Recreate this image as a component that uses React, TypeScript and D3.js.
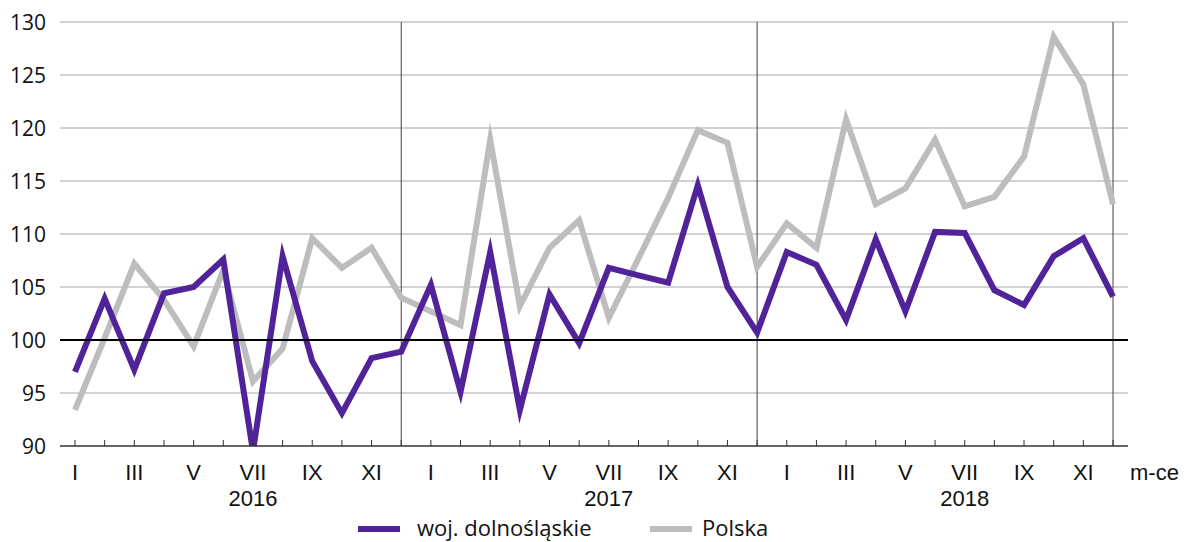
import React, { useEffect, useRef } from 'react';
import * as d3 from 'd3';

const years = ['2016', '2017', '2018'];
const monthLabels = ['I', '', 'III', '', 'V', '', 'VII', '', 'IX', '', 'XI', ''];

// woj. dolnośląskie
const dolnoslaskie = [
  97.0, 103.9, 97.2, 104.4, 105.0, 107.6, 89.5, 107.9, 98.0, 93.1, 98.3, 98.9,
  105.2, 95.1, 108.3, 93.4, 104.3, 99.7, 106.8, 106.1, 105.4, 114.6, 105.0, 100.7,
  108.3, 107.1, 101.9, 109.5, 102.7, 110.2, 110.1, 104.7, 103.3, 107.9, 109.6, 104.1,
];

// Polska
const polska = [
  93.4, 100.2, 107.2, 103.8, 99.4, 106.6, 96.1, 99.2, 109.6, 106.8, 108.7, 104.0,
  102.7, 101.4, 118.9, 103.2, 108.7, 111.3, 102.1, 107.7, 113.4, 119.8, 118.6, 106.9,
  111.0, 108.7, 120.8, 112.8, 114.3, 118.9, 112.6, 113.5, 117.3, 128.6, 124.1, 112.8,
];

const yTicks = [90, 95, 100, 105, 110, 115, 120, 125, 130];

const W = 1192;
const H = 542;

const App = () => {
  const svgRef = useRef<SVGSVGElement>(null);

  useEffect(() => {
    const svg = d3.select(svgRef.current);
    svg.selectAll('*').remove();

    const left = 60;
    const right = 1128;
    const top = 22;
    const bottom = 446;
    const n = dolnoslaskie.length;

    const x = d3.scaleLinear().domain([0, n - 1]).range([75, 1113]);
    const y = d3.scaleLinear().domain([90, 130]).range([bottom, top]);

    svg.append('defs')
      .append('clipPath')
      .attr('id', 'plot')
      .append('rect')
      .attr('x', left)
      .attr('y', top - 10)
      .attr('width', right - left)
      .attr('height', bottom - top + 10);

    // horizontal grid
    svg.append('g')
      .selectAll('line')
      .data(yTicks.filter(d => d !== 90 && d !== 100))
      .join('line')
      .attr('x1', left)
      .attr('x2', right)
      .attr('y1', d => y(d))
      .attr('y2', d => y(d))
      .attr('stroke', '#a6a6a6')
      .attr('stroke-width', 1);

    // december separators
    svg.append('g')
      .selectAll('line')
      .data(d3.range(11, n, 12))
      .join('line')
      .attr('x1', d => x(d))
      .attr('x2', d => x(d))
      .attr('y1', top)
      .attr('y2', bottom)
      .attr('stroke', '#404040')
      .attr('stroke-width', 1);

    // y labels
    svg.append('g')
      .selectAll('text')
      .data(yTicks)
      .join('text')
      .attr('x', 46)
      .attr('y', d => y(d) + 8)
      .attr('text-anchor', 'end')
      .attr('font-family', '"Open Sans", "Noto Sans", sans-serif')
      .attr('font-size', 21)
      .attr('fill', '#111')
      .text(d => d);

    // lines
    const line = d3.line<number>()
      .x((_, i) => x(i))
      .y(d => y(d));

    const series = [
      { data: polska, color: '#bdbdbd' },
      { data: dolnoslaskie, color: '#51239b' },
    ];

    svg.append('g')
      .attr('clip-path', 'url(#plot)')
      .selectAll('path')
      .data(series)
      .join('path')
      .attr('d', d => line(d.data))
      .attr('fill', 'none')
      .attr('stroke', d => d.color)
      .attr('stroke-width', 6)
      .attr('stroke-linejoin', 'miter')
      .attr('stroke-miterlimit', 10);

    // 100 reference line
    svg.append('line')
      .attr('x1', left)
      .attr('x2', right)
      .attr('y1', y(100))
      .attr('y2', y(100))
      .attr('stroke', '#000')
      .attr('stroke-width', 2);

    // bottom axis
    svg.append('line')
      .attr('x1', left)
      .attr('x2', right)
      .attr('y1', bottom)
      .attr('y2', bottom)
      .attr('stroke', '#333')
      .attr('stroke-width', 1.5);

    svg.append('g')
      .selectAll('line')
      .data(d3.range(n))
      .join('line')
      .attr('x1', d => x(d))
      .attr('x2', d => x(d))
      .attr('y1', bottom - 6)
      .attr('y2', bottom)
      .attr('stroke', '#333')
      .attr('stroke-width', 1);

    // month labels
    svg.append('g')
      .selectAll('text')
      .data(d3.range(n))
      .join('text')
      .attr('x', d => x(d))
      .attr('y', 480)
      .attr('text-anchor', 'middle')
      .attr('font-family', '"Liberation Sans", Arial, sans-serif')
      .attr('font-size', 22)
      .attr('fill', '#111')
      .text(d => monthLabels[d % 12]);

    // year labels
    svg.append('g')
      .selectAll('text')
      .data(years)
      .join('text')
      .attr('x', (_, i) => x(i * 12 + 6))
      .attr('y', 506)
      .attr('text-anchor', 'middle')
      .attr('font-family', '"Liberation Sans", Arial, sans-serif')
      .attr('font-size', 22)
      .attr('fill', '#111')
      .text(d => d);

    svg.append('text')
      .attr('x', 1130)
      .attr('y', 480)
      .attr('font-family', '"Liberation Sans", Arial, sans-serif')
      .attr('font-size', 22)
      .attr('fill', '#111')
      .text('m-ce');

    // legend
    const legend = [
      { label: 'woj. dolnośląskie', color: '#51239b', x: 358, dx: 59 },
      { label: 'Polska', color: '#bdbdbd', x: 650, dx: 52 },
    ];
    const lg = svg.append('g')
      .selectAll('g')
      .data(legend)
      .join('g')
      .attr('transform', d => `translate(${d.x},529)`);
    lg.append('line')
      .attr('x1', 0)
      .attr('x2', 42)
      .attr('stroke', d => d.color)
      .attr('stroke-width', 6);
    lg.append('text')
      .attr('x', d => d.dx)
      .attr('y', 7)
      .attr('font-family', '"Open Sans", "Noto Sans", sans-serif')
      .attr('font-size', 22)
      .attr('fill', '#111')
      .text(d => d.label);
  }, []);

  return (
    <svg
      ref={svgRef}
      width={W}
      height={H}
      style={{ position: 'absolute', left: 0, top: 0, background: '#fff' }}
    />
  );
};

export default App;
